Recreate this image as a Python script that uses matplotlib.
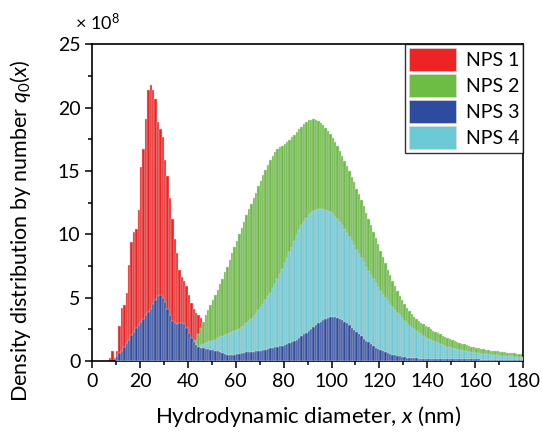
import numpy as np
import matplotlib.pyplot as plt
from matplotlib.patches import Patch

plt.rcParams['font.family'] = ['Lato', 'DejaVu Sans']
plt.rcParams['mathtext.fontset'] = 'custom'
plt.rcParams['mathtext.it'] = 'Lato:italic'
plt.rcParams['mathtext.rm'] = 'Lato'

# diameters (nm), 1 nm bins, values x 1e8
x1 = np.arange(7, 48)
nps1 = [0.26, 0.76, 0.26, 0.76, 2.8, 4.2, 4.4, 5.4, 7.6, 9.4,
        10.2, 10.4, 11.9, 15.3, 16.7, 19.1, 21.4, 21.8, 21.4, 20.7,
        18.9, 18.3, 17.7, 15.9, 14.6, 12.9, 11.2, 9.6, 8.5, 7.2,
        6.6, 6.3, 5.9, 5.2, 4.6, 4.1, 3.8, 3.6, 3.4, 3.0,
        2.5]

x2 = np.arange(42, 181)
nps2 = [1.2, 1.7, 2.1, 2.6, 3.1, 3.6, 4.0, 4.4, 4.8, 5.2,
        5.6, 6.1, 6.5, 7.0, 7.4, 8.0, 8.5, 9.0, 9.5, 10.0,
        10.5, 11.0, 11.5, 12.0, 12.4, 12.9, 13.3, 13.8, 14.2, 14.7,
        15.1, 15.5, 15.9, 16.2, 16.5, 16.7, 16.85, 17.0, 17.15, 17.3,
        17.45, 17.65, 17.85, 18.05, 18.3, 18.5, 18.7, 18.85, 19.0, 19.05,
        19.1, 19.05, 18.95, 18.8, 18.6, 18.4, 18.15, 17.9, 17.6, 17.3,
        17.0, 16.6, 16.2, 15.8, 15.4, 15.0, 14.55, 14.1, 13.6, 13.2,
        12.7, 12.2, 11.7, 11.2, 10.7, 10.2, 9.7, 9.2, 8.7, 8.2,
        7.7, 7.2, 6.8, 6.3, 5.9, 5.5, 5.15, 4.8, 4.5, 4.2,
        3.95, 3.7, 3.5, 3.3, 3.15, 3.0, 2.9, 2.8, 2.7, 2.55,
        2.4, 2.3, 2.2, 2.1, 2.0, 1.9, 1.8, 1.72, 1.65, 1.58,
        1.5, 1.44, 1.38, 1.32, 1.26, 1.2, 1.15, 1.1, 1.05, 1.0,
        0.96, 0.92, 0.89, 0.86, 0.83, 0.8, 0.78, 0.76, 0.74, 0.72,
        0.7, 0.68, 0.66, 0.64, 0.62, 0.6, 0.58, 0.56, 0.55]

x3 = np.arange(10, 181)
nps3 = [0.39, 0.66, 0.81, 1.13, 1.39, 1.66, 2.05, 2.31, 2.58, 2.84,
        3.1, 3.36, 3.63, 3.89, 4.15, 4.5, 4.8, 5.1, 5.2, 4.94,
        4.68, 4.15, 3.63, 3.2, 2.97, 2.9, 3.0, 3.0, 2.9, 2.58,
        2.2, 1.8, 1.5, 1.26, 1.13, 1.05, 1.0, 0.97, 0.93, 0.9,
        0.87, 0.82, 0.77, 0.7, 0.63, 0.56, 0.5, 0.48, 0.48, 0.52,
        0.56, 0.6, 0.64, 0.67, 0.7, 0.72, 0.73, 0.74, 0.76, 0.78,
        0.8, 0.85, 0.9, 0.95, 1.0, 1.04, 1.08, 1.12, 1.17, 1.23,
        1.28, 1.35, 1.42, 1.5, 1.58, 1.68, 1.8, 1.95, 2.1, 2.25,
        2.4, 2.57, 2.73, 2.88, 3.0, 3.12, 3.23, 3.32, 3.4, 3.45,
        3.47, 3.46, 3.42, 3.35, 3.25, 3.12, 2.97, 2.82, 2.65, 2.48,
        2.32, 2.12, 1.95, 1.78, 1.62, 1.48, 1.34, 1.2, 1.07, 0.95,
        0.85, 0.77, 0.69, 0.62, 0.56, 0.51, 0.46, 0.42, 0.38, 0.34,
        0.31, 0.28, 0.26, 0.24, 0.22, 0.21, 0.2, 0.19, 0.18, 0.18,
        0.17, 0.17, 0.17, 0.16, 0.16, 0.16, 0.16, 0.15, 0.15, 0.15,
        0.15, 0.15, 0.14, 0.14, 0.14, 0.14, 0.14, 0.13, 0.13, 0.13,
        0.13, 0.13, 0.12, 0.12, 0.12, 0.12, 0.12, 0.11, 0.11, 0.11,
        0.11, 0.11, 0.1, 0.1, 0.1, 0.1, 0.1, 0.1, 0.1, 0.1,
        0.1]

x4 = np.arange(43, 181)
nps4 = [1.0, 1.15, 1.25, 1.35, 1.45, 1.5, 1.55, 1.62, 1.7, 1.8,
        1.88, 1.96, 2.05, 2.13, 2.2, 2.28, 2.36, 2.45, 2.55, 2.7,
        2.8, 3.0, 3.15, 3.35, 3.55, 3.75, 4.0, 4.25, 4.5, 4.8,
        5.1, 5.4, 5.75, 6.1, 6.45, 6.85, 7.25, 7.7, 8.1, 8.6,
        9.0, 9.5, 9.95, 10.35, 10.7, 11.0, 11.3, 11.5, 11.7, 11.82,
        11.92, 11.98, 12.0, 12.0, 11.95, 11.85, 11.75, 11.6, 11.4, 11.2,
        10.95, 10.7, 10.4, 10.1, 9.8, 9.5, 9.15, 8.8, 8.45, 8.1,
        7.8, 7.45, 7.1, 6.8, 6.5, 6.15, 5.85, 5.55, 5.25, 5.0,
        4.75, 4.45, 4.25, 4.0, 3.8, 3.6, 3.4, 3.2, 3.0, 2.8,
        2.65, 2.5, 2.35, 2.2, 2.1, 1.95, 1.85, 1.75, 1.65, 1.55,
        1.47, 1.4, 1.33, 1.27, 1.2, 1.14, 1.08, 1.03, 0.98, 0.94,
        0.9, 0.86, 0.82, 0.78, 0.75, 0.72, 0.69, 0.66, 0.63, 0.6,
        0.58, 0.56, 0.54, 0.52, 0.5, 0.48, 0.46, 0.44, 0.42, 0.41,
        0.4, 0.38, 0.37, 0.35, 0.34, 0.33, 0.32, 0.31]

labels = ['NPS 1', 'NPS 2', 'NPS 3', 'NPS 4']
colors = ['#ee2424', '#6dbd45', '#2f4b9f', '#6ccad6']

fig = plt.figure(figsize=(5.42, 4.33), dpi=100)
ax = fig.add_axes([0.170, 0.166, 0.795, 0.732])

edge = '#d9d9d9'
ax.bar(x1, nps1, width=1, align='edge', color=colors[0], edgecolor=edge, linewidth=0.3, zorder=1)
ax.bar(x2, nps2, width=1, align='edge', color=colors[1], edgecolor=edge, linewidth=0.3, zorder=2)
ax.bar(x4, nps4, width=1, align='edge', color=colors[3], edgecolor=edge, linewidth=0.3, zorder=3)
ax.bar(x3, nps3, width=1, align='edge', color=colors[2], edgecolor=edge, linewidth=0.3, zorder=4)

ax.set_xlim(0, 180)
ax.set_ylim(0, 25)
ax.set_xticks(np.arange(0, 181, 20))
ax.set_xticks(np.arange(0, 181, 10), minor=True)
ax.set_yticks(np.arange(0, 26, 5))
ax.set_yticks(np.arange(0, 25.1, 2.5), minor=True)
ax.tick_params(which='major', direction='out', length=5, width=1.1, labelsize=14)
ax.tick_params(which='minor', direction='out', length=3, width=1.1)
for s in ax.spines.values():
    s.set_linewidth(1.2)

ax.text(-0.04, 1.035, '× 10$^8$', transform=ax.transAxes, fontsize=13, ha='left', va='bottom')
ax.set_xlabel('Hydrodynamic diameter, $x$ (nm)', fontsize=16, labelpad=10)
ax.set_ylabel('Density distribution by number $q_0(x)$', fontsize=15.5)
ax.yaxis.set_label_coords(-0.137, 0.41)

handles = [Patch(facecolor=c, edgecolor=edge, linewidth=0.5) for c in colors]
leg = ax.legend(handles, labels, loc='upper right', fontsize=14, frameon=True, fancybox=False,
                handlelength=2.4, handleheight=1.45, labelspacing=0.15, borderaxespad=0,
                handletextpad=0.5, borderpad=0.2)
leg.get_frame().set_edgecolor('black')
leg.get_frame().set_linewidth(1.0)

fig.savefig('out.png', dpi=100)
